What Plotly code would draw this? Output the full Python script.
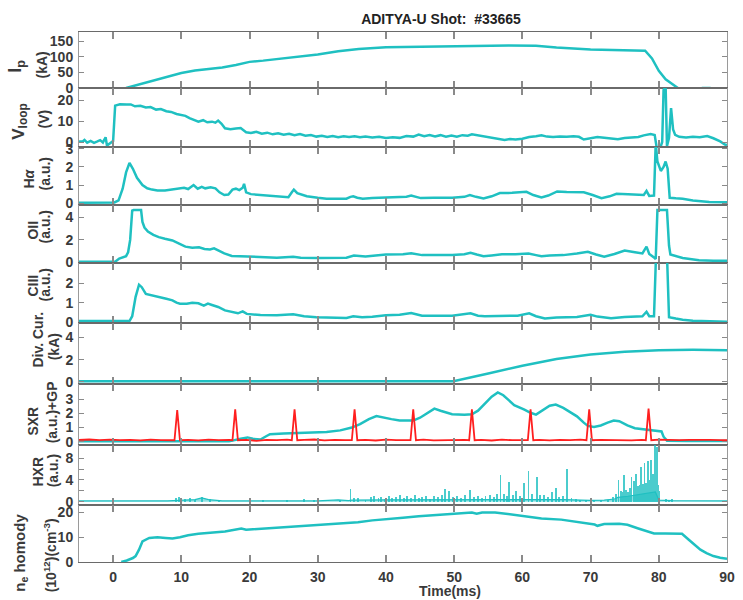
import plotly.graph_objects as go

# ---------------- signal data (time in ms) ----------------
ip_t = [1.9, 4, 6, 8, 10, 12, 14, 16, 18, 20, 22, 25, 28, 30, 33, 36, 40, 45, 50, 55, 58, 62,
        65, 70, 75, 78, 79, 80, 81, 82, 82.8, None, 86.3, 87.6]
ip_v = [0, 12, 25, 37, 48, 56, 61, 66, 74, 84, 88, 95, 102, 108, 118, 125, 131, 133, 134, 136,
        137, 136, 130, 124, 122, 120, 95, 55, 28, 12, 0, None, 0, 0]

vl_t = [-5, -4.5, -4.2, -3.8, -3.3, -2.8, -2.3, -1.9, -1.5, -1.1, -0.9, -0.5, 0.0, 0.3, 1.0, 2.0,
        2.6, 3.2, 4.0, 4.8, 5.5, 6.3, 7.0, 7.8, 8.5, 9.3, 10.0, 10.6, 11.2, 12.0, 12.5, 13.2, 13.8,
        14.5, 15.0, 15.4, 15.9, 16.4, 17.2, 18.0, 18.7, 19.5, 20.2, 21.0, 21.8, 22.6, 23.4, 24.2,
        25.0, 25.8, 26.6, 27.4, 28.2, 29.0, 29.8, 30.6, 31.4, 32.2, 33.0, 33.8, 34.6, 35.4, 36.2,
        37.0, 38.0, 39.0, 40.0, 41.0, 42.0, 43.0, 44.0, 44.8, 45.6, 46.4, 47.2, 48.0, 48.8, 49.6,
        50.4, 51.2, 52.0, 52.6, 53.4, 54.2, 55.0, 56.0, 57.4, 58.2, 59.0, 60.0, 61.0, 62.0, 62.8,
        63.6, 64.5, 65.5, 66.5, 67.5, 68.3, 69.0, 70.0, 71.0, 72.0, 73.0, 74.0, 75.0, 76.0, 77.0,
        77.8, 78.8, 79.4, 79.7, 79.9, 80.2, 80.5, 80.7, 81.0, 81.2, 81.5, 81.8, 82.1, 82.4, 83,
        84, 85, 86, 87.1, 88, 89, 89.7, 90]
vl_v = [0.3, 0.2, 1.0, -0.3, 0.5, -0.4, 0.3, 0.9, -0.2, 2.3, -1.7, -0.8, 0.5, 17.5, 18.2, 18.0,
        18.1, 17.2, 17.4, 16.6, 16.8, 15.6, 15.9, 14.8, 14.5, 13.5, 13.2, 12.6, 11.5, 10.6, 9.8,
        10.5, 9.5, 9.8, 9.3, 10.3, 8.8, 6.6, 6.2, 6.5, 6.7, 4.7, 4.4, 4.9, 4.0, 4.5, 3.7, 4.2,
        3.5, 4.0, 3.3, 3.8, 3.0, 3.4, 2.6, 3.0, 2.4, 2.9, 2.3, 2.8, 2.4, 2.8, 2.3, 2.6, 2.2, 2.5,
        1.9, 2.3, 2.0, 2.9, 2.6, 3.6, 2.8, 3.4, 2.7, 3.3, 2.6, 3.1, 2.5, 3.3, 3.0, 3.7, 3.2, 2.8,
        2.5, 1.8, 1.0, 1.5, 1.2, 1.6, 2.4, 2.8, 3.2, 2.6, 2.4, 2.7, 2.5, 2.8, 2.5, 1.2, 1.8, 2.4,
        2.0, 1.8, 1.3, 1.9, 2.2, 2.4, 3.2, 3.8, 3.4, -2.3, -7.0, -3.0, 0.0, 25.0, 27.0, -2.0, 2.0,
        16.3, 6.0, 3.4, 2.5, 2.2, 2.5, 2.3, 2.9, 1.8, 0.3, -1.2, -1.4]

ha_t = [-5, -2, 0.2, 0.8, 1.4, 1.9, 2.4, 2.9, 3.5, 4.3, 5.0, 5.7, 6.5, 7.6, 8.5, 9.6, 10.4, 11.0,
        11.8, 12.4, 13.0, 13.5, 14.3, 15.0, 15.6, 16.3, 16.9, 17.5, 18.0, 18.5, 19.0, 19.2, 19.5,
        20.2, 21.6, 23.5, 25.7, 26.2, 26.5, 27.0, 28.4, 30.0, 31.3, 33.0, 34.2, 34.8, 35.2, 35.8,
        36.6, 38.0, 40.0, 42.0, 43.0, 43.7, 44.4, 45.1, 47.0, 49.7, 51.5, 52.3, 53.2, 54.3, 55.5,
        56.7, 58.5, 60.0, 60.6, 61.6, 62.8, 63.8, 64.7, 65.1, 66.5, 68.0, 69.0, 70.3, 71.6, 72.8,
        73.8, 75.5, 77.0, 77.8, 78.2, 78.6, 79.3, 79.55, 79.8, 80.3, 80.7, 81.0, 81.3, 81.6, 82.5,
        83.5, 85, 87.4, 90]
ha_v = [0.03, 0.03, 0.04, 0.15, 0.8, 1.7, 2.22, 1.9, 1.4, 1.0, 0.82, 0.75, 0.7, 0.7, 0.75, 0.78,
        0.85, 0.78, 1.0, 0.8, 0.9, 0.82, 0.88, 0.82, 0.6, 0.45, 0.48, 0.75, 0.8, 0.72, 0.85, 1.07,
        0.6, 0.5, 0.45, 0.4, 0.33, 0.6, 0.75, 0.55, 0.38, 0.3, 0.25, 0.24, 0.25, 0.35, 0.38, 0.3,
        0.24, 0.28, 0.3, 0.32, 0.36, 0.42, 0.33, 0.28, 0.3, 0.3, 0.35, 0.45, 0.35, 0.26, 0.38, 0.56,
        0.57, 0.6, 0.63, 0.45, 0.32, 0.42, 0.55, 0.65, 0.62, 0.6, 0.6, 0.45, 0.28, 0.38, 0.52, 0.5,
        0.45, 0.45, 0.68, 0.4, 0.42, 3.3, 2.3, 1.78, 2.0, 2.3, 1.9, 0.3, 0.27, 0.25, 0.15, 0.07,
        0.05]

oii_t = [-5, 0.3, 0.9, 1.9, 2.2, 2.5, 2.8, 3.0, 4.1, 4.3, 4.6, 5.1, 5.9, 6.7, 7.6, 8.7, 9.6, 10.6,
         11.6, 12.6, 13.4, 14.2, 14.8, 15.5, 16.3, 17.4, 18.5, 19.8, 21.6, 24, 26.4, 27.5, 30, 34.2,
         35.3, 37, 40, 42.5, 43.7, 45.3, 47.5, 49.7, 51.5, 52.4, 53.3, 54.3, 55.5, 57, 59, 60.9, 62.0,
         62.8, 64, 66, 68, 69.6, 70.8, 72, 73.5, 75, 76.5, 77.6, 78.2, 78.6, 79.3, 79.55, 79.8, 81.2,
         81.5, 81.7, 83.5, 85.9, 88, 90]
oii_v = [0.05, 0.06, 0.35, 0.56, 0.9, 2.0, 4.6, 4.65, 4.65, 3.6, 3.1, 2.75, 2.45, 2.25, 2.1, 1.95,
         1.7, 1.4, 1.3, 1.35, 1.2, 1.15, 1.25, 1.05, 0.8, 0.58, 0.55, 0.52, 0.45, 0.42, 0.5, 0.42, 0.4,
         0.42, 0.62, 0.52, 0.7, 0.72, 0.82, 0.65, 0.66, 0.65, 0.72, 0.86, 0.7, 0.55, 0.62, 0.72, 0.72,
         0.8, 0.65, 0.55, 0.62, 0.65, 0.8, 0.95, 0.7, 0.5, 0.75, 1.05, 0.9, 0.8, 1.4, 0.75, 0.45, 0.3,
         4.65, 4.65, 1.5, 0.7, 0.4, 0.2, 0.15, 0.15]

ciii_t = [-5, 2.4, 2.8, 3.3, 3.8, 4.2, 4.8, 5.5, 6.2, 7.0, 7.8, 8.7, 9.3, 9.8, 10.8, 11.6, 12.5, 13.3,
          13.9, 14.5, 15.4, 16.4, 17.4, 18.3, 19.0, 19.6, 21.6, 24, 26.4, 28, 29.8, 32, 34.2, 35.2,
          36.5, 38, 40, 42, 43.7, 45.3, 49.7, 52.4, 53.5, 54.5, 57, 59.3, 61, 62, 63.3, 65, 68, 70,
          71, 73, 75, 77.6, 78.2, 78.6, 79.3, 79.6, 81.2, 81.5, 82.5, 83.5, 85, 87.4, 90]
ciii_v = [0.05, 0.05, 0.3, 1.3, 1.93, 1.8, 1.45, 1.4, 1.35, 1.28, 1.2, 1.12, 1.0, 0.95, 0.95, 1.0,
          0.97, 0.85, 0.95, 0.88, 0.78, 0.6, 0.52, 0.45, 0.55, 0.42, 0.36, 0.35, 0.4, 0.3, 0.25, 0.22,
          0.21, 0.3, 0.25, 0.27, 0.35, 0.38, 0.47, 0.33, 0.33, 0.45, 0.33, 0.3, 0.3, 0.33, 0.45, 0.3,
          0.18, 0.24, 0.26, 0.38, 0.28, 0.2, 0.26, 0.3, 0.53, 0.3, 0.3, 3.5, 3.5, 0.25, 0.18, 0.12,
          0.07, 0.03, 0.02]

div_t = [-5, 10, 20, 30, 40, 49.9, 55, 60, 65, 70, 75, 80, 85, 90]
div_v = [0.05, 0.05, 0.05, 0.05, 0.05, 0.05, 0.75, 1.45, 2.05, 2.45, 2.7, 2.85, 2.88, 2.85]

sxr_t = [-5, 5, 10, 15, 17, 18.7, 19.7, 20.5, 21.6, 22.5, 23, 25, 27, 29, 31.3, 33.3, 35, 36.2,
         37.5, 38.6, 39.5, 40.8, 42, 44, 45, 45.9, 47.1, 48, 49.7, 51.5, 52.6, 53.5, 54.5, 55.5, 56.4,
         57.2, 58, 58.8, 60.3, 61.2, 62, 63.2, 64.0, 64.9, 66, 67, 68, 69, 69.6, 70.5, 71.5, 72.5,
         73.4, 74.2, 75.4, 76.5, 77.8, 79, 80.4, 80.7, 81.2, 84, 90]
sxr_v = [0.02, 0.02, 0.02, 0.02, 0.02, 0.2, 0.3, 0.2, 0.15, 0.4, 0.53, 0.58, 0.6, 0.62, 0.68, 0.8,
         1.0, 1.25, 1.6, 1.82, 1.75, 1.6, 1.5, 1.5, 1.7, 1.97, 2.35, 2.2, 1.95, 1.92, 1.95, 2.2, 2.7,
         3.2, 3.5, 3.3, 2.95, 2.6, 2.28, 2.05, 1.92, 2.28, 2.55, 2.64, 2.4, 2.1, 1.8, 1.35, 1.12,
         1.05, 1.15, 1.35, 1.5, 1.45, 1.15, 0.95, 0.86, 0.8, 0.72, 0.35, 0.07, 0.05, 0.05]

gp_t = [-5, -3.5, -2, -0.5, 1, 2.5, 4, 5.5, 7, 8.5, 9.0, 9.4, 9.8, 11, 12.5, 14, 15.5, 17.0,
        17.5, 17.9, 18.3, 19.5, 21, 22.5, 24, 25.5, 26.2, 26.6, 27.0, 28, 29.5, 31, 32.5, 34, 35.0,
        35.4, 35.8, 37, 38.5, 40, 41.5, 43.6, 44.0, 44.4, 45.5, 47, 48.5, 50, 51.5, 52.2, 52.6, 53.0,
        54, 55.5, 57, 58.5, 60.8, 61.2, 61.6, 62.5, 64, 65.5, 67, 68.5, 69.4, 69.8, 70.2, 71.5, 73,
        74.5, 76, 77.5, 78.1, 78.5, 78.9, 80, 81.5, 83, 84.5, 86, 87.5, 89, 90]
gp_v = [0.12, 0.15, 0.1, 0.14, 0.1, 0.13, 0.09, 0.14, 0.11, 0.1, 0.1, 2.25, 0.1, 0.13, 0.09, 0.14,
        0.1, 0.12, 0.1, 2.3, 0.1, 0.12, 0.06, 0.13, 0.1, 0.14, 0.1, 2.3, 0.1, 0.12, 0.15, 0.09, 0.13,
        0.1, 0.1, 2.3, 0.1, 0.13, 0.08, 0.14, 0.1, 0.1, 2.3, 0.1, 0.14, 0.09, 0.12, 0.1, 0.13, 0.1,
        2.3, 0.1, 0.12, 0.08, 0.14, 0.1, 0.1, 2.3, 0.1, 0.13, 0.09, 0.12, 0.1, 0.14, 0.1, 2.3, 0.1,
        0.12, 0.1, 0.13, 0.09, 0.12, 0.1, 2.35, 0.1, 0.14, 0.11, 0.1, 0.13, 0.1, 0.12, 0.1, 0.1]

hxr_base_t = [-5, 8, 12, 13, 14, 16, 30, 31.5, 33, 34.5, 35, 40, 50, 60, 66, 70, 72, 73.5, 74, 75.5,
              77, 78.5, 79.5, 80, 82, 90]
hxr_base_v = [0.15, 0.15, 0.4, 0.7, 0.4, 0.15, 0.15, 0.3, 0.35, 0.2, 0.3, 0.35, 0.4, 0.5, 0.4, 0.25,
              0.3, 0.5, 0.8, 1.0, 1.3, 1.6, 1.8, 0.3, 0.2, 0.15]

hxr_spike_t = [9.2, 9.7, 10.5, 11.3, 12.0, 13.0, 14.2, 15.5, 22.0, 25.5, 28.0, 29.5, 33.2, 34.8,
               35.3, 35.9, 37.0, 37.8, 38.3, 38.9, 39.3, 39.8, 40.4, 40.9, 41.5, 42.0, 42.6, 43.1,
               43.7, 44.2, 44.8, 45.3, 45.9, 46.4, 47.0, 47.6, 48.2, 48.7, 49.2, 49.8, 50.4, 51.0,
               51.6, 52.3, 52.9, 53.5, 54.1, 54.6, 55.2, 55.8, 56.3, 56.8, 57.3, 57.7, 58.1, 58.6,
               59.1, 59.6, 60.2, 60.9, 61.4, 62.1, 62.6, 63.2, 63.7, 64.3, 64.9, 65.4, 66.0, 66.6,
               67.2, 67.8, 68.5, 69.3, 70.5, 71.5, 72.5, 73.3, 73.7, 74.1, 74.4, 74.7, 74.9, 75.2,
               75.5, 75.8, 76.0, 76.3, 76.4, 76.7, 77.0, 77.2, 77.4, 77.7, 77.9, 78.1, 78.4, 78.6,
               78.8, 79.1, 79.3, 79.45, 79.7, 79.9, 80.1, 81.0, 81.5, 82.0]
hxr_spike_h = [0.6, 0.9, 0.5, 0.7, 0.4, 0.9, 0.5, 0.3, 0.3, 0.2, 0.5, 0.4, 0.3, 2.3, 0.6, 0.7, 0.4,
               0.8, 1.0, 0.6, 0.9, 0.5, 1.1, 0.7, 0.9, 1.2, 0.6, 1.0, 0.7, 1.3, 0.6, 0.9, 1.0, 0.5,
               1.1, 0.8, 1.3, 2.3, 2.0, 0.8, 1.0, 0.7, 1.2, 2.2, 0.8, 1.0, 0.6, 1.1, 1.3, 0.9, 1.5,
               4.9, 1.5, 1.0, 3.7, 1.2, 2.0, 1.0, 3.5, 5.7, 1.4, 4.5, 1.3, 1.2, 0.9, 1.8, 2.5, 0.8,
               1.0, 6.0, 0.7, 0.5, 0.4, 0.3, 0.2, 0.3, 0.4, 0.8, 1.5, 4.0, 2.0, 1.7, 4.9, 2.2, 1.8,
               2.5, 4.5, 2.3, 3.8, 5.0, 2.8, 3.0, 6.3, 3.2, 7.1, 3.5, 7.5, 4.0, 7.7, 5.0, 4.0, 10.5,
               10.0, 3.0, 2.0, 0.5, 0.4, 0.5]

ne_t = [1.2, 2.0, 2.9, 3.3, 3.8, 4.3, 5.3, 6.5, 7.7, 8.7, 9.8, 11, 12.5, 14.5, 16.4, 18.8, 19.5,
        20.5, 22.5, 25, 27, 29.9, 33, 35.9, 38, 40, 42.5, 44.8, 47.5, 50.1, 52.6, 53.3, 54.1, 56,
        58, 59.9, 61.5, 62.8, 65.7, 68, 70.6, 71, 72, 74.2, 75.4, 77, 78.5, 79.3, 81, 83.4, 84.4,
        85.2, 86.1, 87, 88, 89, 90]
ne_v = [0, 0.6, 1.6, 2.4, 5, 8.3, 9.7, 10.0, 9.7, 9.5, 10.0, 10.8, 11.4, 11.8, 12.3, 13.5, 13.0,
        13.2, 13.6, 14.0, 14.4, 15.0, 15.5, 16.0, 16.8, 17.4, 17.9, 18.5, 19.0, 19.6, 20.0, 19.5,
        20.0, 20.0, 19.3, 18.6, 18.0, 17.6, 17.1, 16.2, 15.1, 14.6, 15.3, 15.4, 15.0, 13.5, 12.0,
        11.5, 11.5, 11.4, 9.0, 7.0, 5.0, 3.6, 2.4, 1.7, 1.3]

x_ticks = [0, 10, 20, 30, 40, 50, 60, 70, 80, 90]

# ---------------- styling ----------------
CYAN = "#1fc0c1"
RED = "#ff1f1f"
FONT = "Liberation Sans, Arial, sans-serif"
TXT = "#3a3a3a"

W, H = 743, 600
LEFT, RIGHT, TOP, BOTTOM = 79, 735, 32, 562
# panel pixel boundaries, top to bottom
bounds = [32, 88, 147, 205, 263, 323, 384, 445, 505, 562]

panel_axes = [
    dict(range=[0, 180], tickvals=[0, 50, 100, 150]),
    dict(range=[-2.4, 26], tickvals=[0, 10, 20]),
    dict(range=[-0.1, 3.1], tickvals=[0, 1, 2, 3]),
    dict(range=[-0.05, 5.1], tickvals=[0, 2, 4]),
    dict(range=[-0.05, 3.05], tickvals=[0, 1, 2]),
    dict(range=[-0.2, 5.3], tickvals=[0, 2, 4]),
    dict(range=[-0.24, 4.1], tickvals=[0, 1, 2, 3]),
    dict(range=[-0.6, 10.4], tickvals=[0, 4, 8],
         minor=dict(tickvals=[2, 6], ticks="inside", ticklen=5, tickcolor="#8a8a8a")),
    dict(range=[0, 23], tickvals=[0, 10, 20]),
]

# y-axis titles: (line1, x px, y px, size), (line2, x px, y px, size)
ytitles = [
    (("I<sub>p</sub>", 15, 66, 18), ("(kA)", 42, 65, 14)),
    (("V<sub>loop</sub>", 19, 122, 17), ("(V)", 44, 119, 14)),
    (("H<i>α</i>", 28, 179, 14), ("(a.u.)", 45, 174, 14)),
    (("OII", 32, 230, 14), ("(a.u.)", 45, 227, 14)),
    (("CIII", 32, 286, 14), ("(a.u.)", 45, 285, 14)),
    (("Div. Cur.", 37, 340, 14), ("(kA)", 54, 347, 14)),
    (("SXR", 32, 421, 14), ("(a.u.)+GP", 52, 412, 14)),
    (("HXR", 37, 472, 14), ("(a.u.)", 53, 471, 14)),
    (("n<sub>e</sub> homody", 19, 553, 15), ("(10<sup>12</sup>)(cm<sup>-3</sup>)", 50, 555, 14)),
]


def px_x(p):
    return (p - LEFT) / (RIGHT - LEFT)


def px_y(p):
    return (BOTTOM - p) / (BOTTOM - TOP)


def axn(i):
    return ("x" if i == 1 else f"x{i}"), ("y" if i == 1 else f"y{i}")


fig = go.Figure()


def line(i, x, y, color=CYAN, width=2.5, **kw):
    xa, ya = axn(i)
    fig.add_trace(go.Scatter(x=x, y=y, mode="lines", xaxis=xa, yaxis=ya,
                             line=dict(color=color, width=width), hoverinfo="skip",
                             connectgaps=False, **kw))


line(1, ip_t, ip_v)
line(2, vl_t, vl_v)
line(3, ha_t, ha_v)
line(4, oii_t, oii_v)
line(5, ciii_t, ciii_v)
line(6, div_t, div_v)
line(7, sxr_t, sxr_v)
line(7, gp_t, gp_v, color=RED, width=1.8)
line(8, hxr_base_t, hxr_base_v, width=1.2, fill="tozeroy", fillcolor="rgba(31,192,193,0.5)")
fig.add_trace(go.Bar(x=hxr_spike_t, y=hxr_spike_h, xaxis="x8", yaxis="y8", width=0.13,
                     marker=dict(color=CYAN, line=dict(width=0)), opacity=0.8,
                     hoverinfo="skip"))
line(9, ne_t, ne_v)

layout = dict(
    width=W, height=H,
    margin=dict(l=LEFT, r=W - RIGHT, t=TOP, b=H - BOTTOM),
    paper_bgcolor="white", plot_bgcolor="white",
    showlegend=False, bargap=0,
    font=dict(family=FONT, color=TXT),
    title=dict(text="ADITYA-U Shot:&nbsp; #33665", x=441 / W, xanchor="center",
               y=1 - 19 / H, yanchor="middle",
               font=dict(family=FONT, size=14, weight="bold", color="#222")),
)

tickfont = dict(family=FONT, size=14, weight="bold", color=TXT)
for i in range(1, 10):
    top, bot = bounds[i - 1], bounds[i]
    xa, ya = axn(i)
    xkey = "xaxis" if i == 1 else f"xaxis{i}"
    ykey = "yaxis" if i == 1 else f"yaxis{i}"
    layout[xkey] = dict(
        range=[-5, 90], tickvals=x_ticks, anchor=ya,
        showticklabels=(i == 9), ticks="inside", ticklen=7, tickwidth=1.5, tickcolor="#8a8a8a",
        showline=True, linecolor="#6a6a6a", linewidth=1, mirror="ticks",
        showgrid=False, zeroline=False, tickfont=tickfont, ticklabelstandoff=2,
    )
    if i != 1:
        layout[xkey]["matches"] = "x"
    layout[ykey] = dict(
        domain=[px_y(bot), px_y(top)], anchor=xa,
        ticks="inside", ticklen=5, tickwidth=1.2, tickcolor="#8a8a8a",
        showline=True, linecolor="#9a9a9a", linewidth=1, mirror="ticks",
        showgrid=False, zeroline=False, tickfont=tickfont, ticklabelstandoff=2,
        **panel_axes[i - 1],
    )

annotations = []
for pair in ytitles:
    for text, xp, yp, size in pair:
        annotations.append(dict(
            text=text, x=px_x(xp), y=px_y(yp), xref="paper", yref="paper",
            xanchor="center", yanchor="middle", textangle=-90, showarrow=False,
            font=dict(family=FONT, size=size, weight="bold", color=TXT),
        ))
annotations.append(dict(
    text="Time(ms)", x=px_x(455), y=px_y(591), xref="paper", yref="paper",
    xanchor="center", yanchor="middle", showarrow=False,
    font=dict(family=FONT, size=14, weight="bold", color=TXT),
))
layout["annotations"] = annotations

fig.update_layout(**layout)
fig.write_html("out.html", config={"displayModeBar": False})
